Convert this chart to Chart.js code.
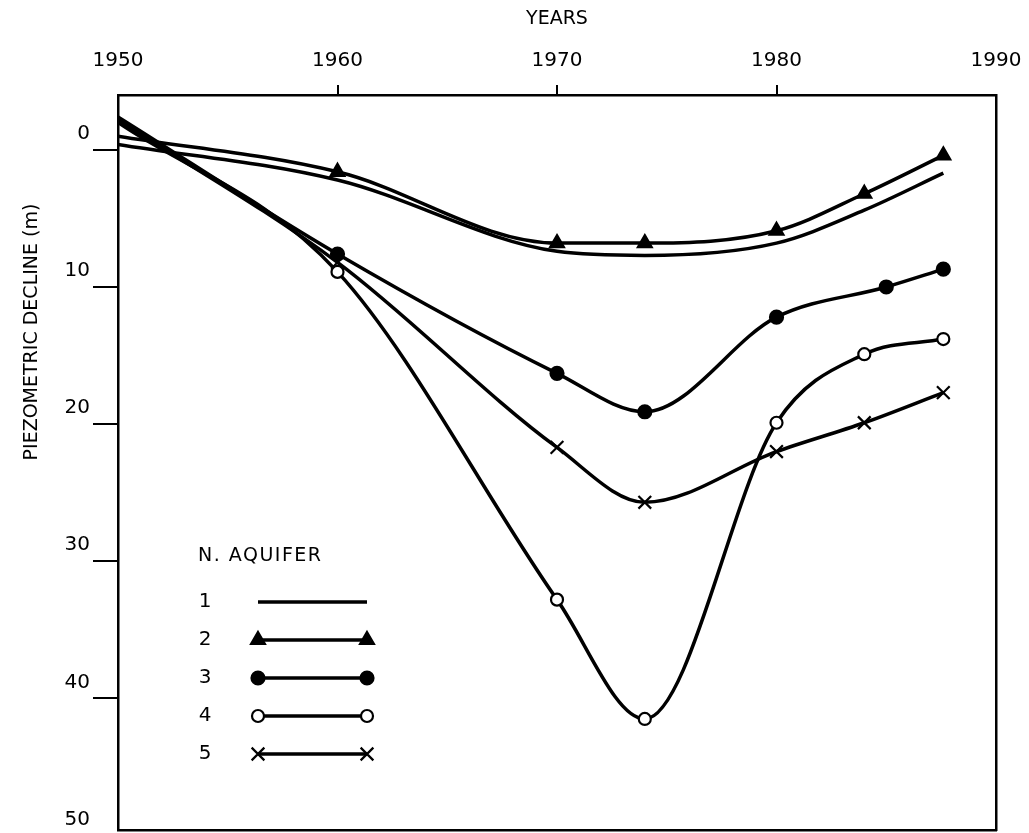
<!DOCTYPE html>
<html>
<head>
<meta charset="utf-8">
<title>Piezometric decline</title>
<script src="https://cdn.jsdelivr.net/npm/chart.js@4.4.0/dist/chart.umd.min.js"></script>
<style>
  body { margin: 0; background: #fff; }
  canvas { display: block; }
</style>
</head>
<body>
<canvas id="myChart" width="1029" height="833"></canvas>
<script>
'use strict';

// values (years, decline in m)
let years = [1950, 1960, 1970, 1974, 1980, 1984, 1987.6];
let years3 = [1950, 1960, 1970, 1974, 1980, 1985, 1987.6];

let aquifer1 = [-0.4, 2.2, 7.4, 7.7, 6.8, 4.4, 1.7];
let aquifer2 = [-1.0, 1.6, 6.8, 6.8, 5.9, 3.2, 0.4];
let aquifer3 = [-2.4, 7.6, 16.3, 19.1, 12.2, 10.0, 8.7];
let aquifer4 = [-2.0, 8.9, 32.8, 41.5, 19.9, 14.9, 13.8];
let aquifer5 = [-2.2, 8.2, 21.7, 25.7, 22.0, 19.9, 17.7];

let xTicks = [1950, 1960, 1970, 1980, 1990];
let yTicks = [0, 10, 20, 30, 40, 50];

let legendTitle = 'N. AQUIFER';
let legendNames = ['1', '2', '3', '4', '5'];

let fontName = '"DejaVu Sans", sans-serif';

// pair the years with the values
function toPoints(xs, ys) {
    let pts = [];
    for (let i = 0; i < xs.length; i++) {
        pts.push({ x: xs[i], y: ys[i] });
    }
    return pts;
}

// no marker on the 1950 starting point
function markerSize(r) {
    return function (c) { return c.dataIndex === 0 ? 0 : r; };
}

let datasets = [
    { label: legendNames[0], data: toPoints(years, aquifer1), pointRadius: 0, pointStyle: false },
    { label: legendNames[1], data: toPoints(years, aquifer2), pointStyle: 'triangle', pointRadius: markerSize(8), pointBackgroundColor: '#000' },
    { label: legendNames[2], data: toPoints(years3, aquifer3), pointStyle: 'circle', pointRadius: markerSize(6.5), pointBackgroundColor: '#000' },
    { label: legendNames[3], data: toPoints(years, aquifer4), pointStyle: 'circle', pointRadius: markerSize(6), pointBackgroundColor: '#fff' },
    { label: legendNames[4], data: toPoints(years, aquifer5), pointStyle: 'crossRot', pointRadius: markerSize(9), pointBackgroundColor: '#000' }
];
datasets.forEach(function (d) {
    d.borderColor = '#000';
    d.borderWidth = 3.5;
    d.pointBorderColor = '#000';
    d.pointBorderWidth = 2.2;
    d.pointHoverRadius = 0;
    d.fill = false;
    d.cubicInterpolationMode = 'monotone';
});

// y title and the "N. AQUIFER" key are drawn by hand, like the paper figure
let paperBits = {
    id: 'paperBits',
    afterDraw: function (chart) {
        let ctx = chart.ctx;
        ctx.save();
        ctx.fillStyle = '#000';
        ctx.textBaseline = 'middle';

        ctx.save();
        ctx.translate(32, 332);
        ctx.rotate(-Math.PI / 2);
        ctx.font = '19px ' + fontName;
        ctx.textAlign = 'center';
        ctx.fillText('PIEZOMETRIC DECLINE (m)', 0, 0);
        ctx.restore();

        ctx.save();
        ctx.font = '19px ' + fontName;
        ctx.letterSpacing = '1.5px';
        ctx.textAlign = 'left';
        ctx.fillText(legendTitle, 198, 556);
        ctx.restore();

        let rowY = 602;
        for (let i = 0; i < datasets.length; i++) {
            let d = datasets[i];
            let y = rowY + i * 38;
            ctx.fillStyle = '#000';
            ctx.font = '20px ' + fontName;
            ctx.textAlign = 'center';
            ctx.fillText(legendNames[i], 205, y);

            ctx.strokeStyle = '#000';
            ctx.lineWidth = 3.5;
            ctx.beginPath();
            ctx.moveTo(258, y);
            ctx.lineTo(367, y);
            ctx.stroke();

            if (d.pointStyle) {
                let r = d.pointRadius({ dataIndex: 1 });
                ctx.fillStyle = d.pointBackgroundColor;
                ctx.lineWidth = 2.2;
                let opts = { pointStyle: d.pointStyle, radius: r, borderWidth: 2.2, rotation: 0 };
                Chart.helpers.drawPoint(ctx, opts, 258, y);
                Chart.helpers.drawPoint(ctx, opts, 367, y);
            }
        }
        ctx.restore();
    }
};

// keep the plot box where the paper has it
function noEdgePadding(s) {
    s.paddingLeft = 0;
    s.paddingRight = 0;
    s.paddingTop = 0;
    s.paddingBottom = 0;
}

let ctx = document.getElementById('myChart').getContext('2d');
let chart = new Chart(ctx, {
    type: 'line',
    data: { datasets: datasets },
    options: {
        responsive: false,
        animation: false,
        devicePixelRatio: 1,
        layout: { padding: 0, autoPadding: false },
        plugins: {
            legend: { display: false },
            tooltip: { enabled: false }
        },
        scales: {
            x: {
                type: 'linear',
                position: 'top',
                min: 1950,
                max: 1990,
                afterBuildTicks: function (s) { s.ticks = xTicks.map(function (v) { return { value: v }; }); },
                afterFit: function (s) { s.height = 95; noEdgePadding(s); },
                ticks: {
                    color: '#000', font: { family: fontName, size: 20 }, padding: 12, maxRotation: 0, autoSkip: false,
                    callback: function (v) { return String(v); }
                },
                grid: {
                    drawOnChartArea: false,
                    tickLength: 10,
                    lineWidth: 2,
                    color: function (c) { return (c.tick && (c.tick.value === 1950 || c.tick.value === 1990)) ? 'rgba(0,0,0,0)' : '#000'; }
                },
                border: { color: '#000', width: 2.5 },
                title: { display: true, text: 'YEARS', color: '#000', font: { family: fontName, size: 19 }, padding: { top: 8, bottom: 0 } }
            },
            x2: {
                type: 'linear',
                position: 'bottom',
                min: 1950,
                max: 1990,
                afterFit: function (s) { s.height = 3; noEdgePadding(s); },
                ticks: { display: false },
                grid: { display: false, drawTicks: false },
                border: { color: '#000', width: 2.5 }
            },
            y: {
                type: 'linear',
                position: 'left',
                reverse: true,
                min: -4,
                max: 49.6,
                afterBuildTicks: function (s) { s.ticks = yTicks.map(function (v) { return { value: v }; }); },
                afterFit: function (s) { s.width = 118; noEdgePadding(s); },
                ticks: { color: '#000', font: { family: fontName, size: 20 }, padding: 3, labelOffset: -16, autoSkip: false },
                grid: { drawOnChartArea: false, tickLength: 25, lineWidth: 2, color: '#000' },
                border: { color: '#000', width: 2.5 }
            },
            y2: {
                type: 'linear',
                position: 'right',
                min: -4,
                max: 49.6,
                afterFit: function (s) { s.width = 33; noEdgePadding(s); },
                ticks: { display: false },
                grid: { display: false, drawTicks: false },
                border: { color: '#000', width: 2.5 }
            }
        }
    },
    plugins: [paperBits]
});
console.log(chart.chartArea);
</script>
</body>
</html>
